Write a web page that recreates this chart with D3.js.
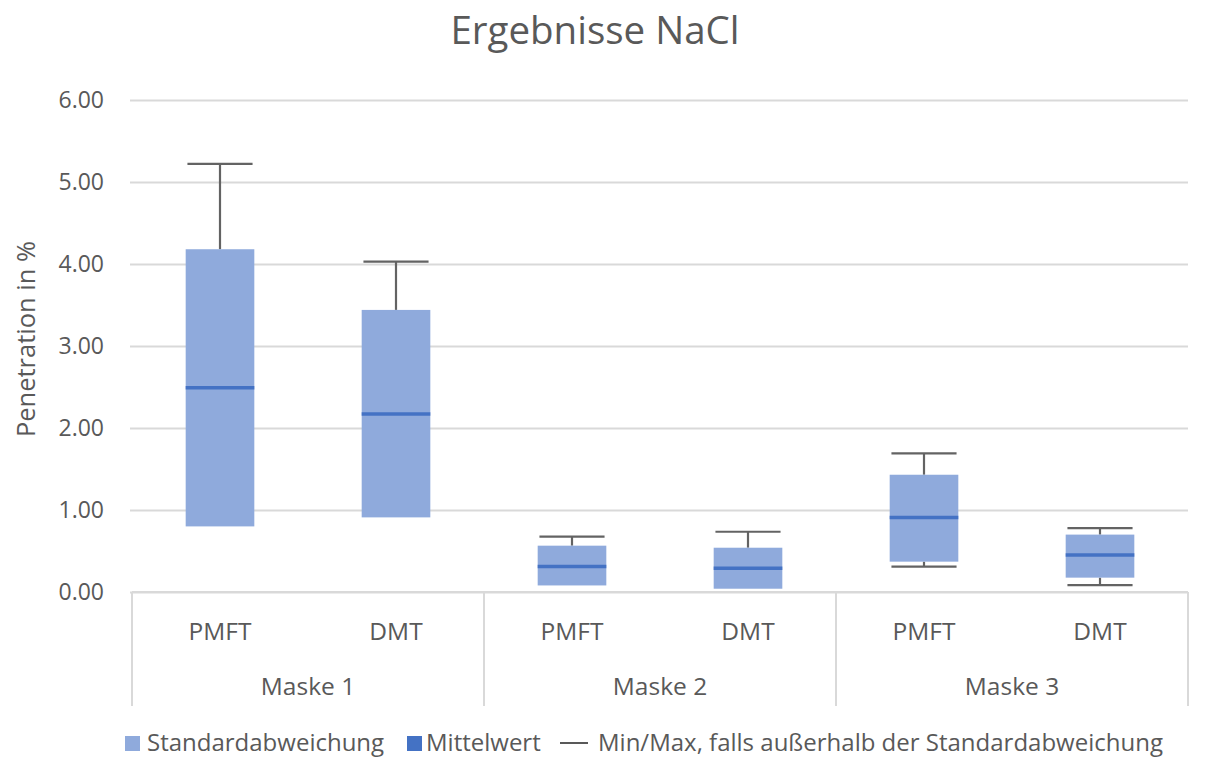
<!DOCTYPE html>
<html>
<head>
<meta charset="utf-8">
<script src="https://cdn.jsdelivr.net/npm/d3@7"></script>
<style>
  body { margin: 0; background: #fff; }
  svg { display: block; font-family: "Open Sans", sans-serif; }
</style>
</head>
<body>
<svg id="chart" width="1207" height="757"></svg>
<script>
// ---- data ----
const groups = ["Maske 1", "Maske 2", "Maske 3"];
const methods = ["PMFT", "DMT"];
const sdLow   = [0.80, 0.91, 0.08, 0.04, 0.37, 0.175];
const sdHigh  = [4.18, 3.44, 0.565, 0.54, 1.43, 0.70];
const means   = [2.49, 2.17, 0.31, 0.29, 0.91, 0.45];
const maxVals = [5.22, 4.03, 0.675, 0.735, 1.69, 0.78];
const minVals = [null, null, null, null, 0.31, 0.085];
const yTicks  = [0, 1, 2, 3, 4, 5, 6];
const title = "Ergebnisse NaCl";
const yTitle = "Penetration in %";
const legendLabels = ["Standardabweichung", "Mittelwert", "Min/Max, falls außerhalb der Standardabweichung"];

// ---- layout ----
const svg = d3.select("#chart");
const pLeft = 132, pRight = 1188, pTop = 100, pBottom = 592;
const textColor = "#595959";
const gridColor = "#d9d9d9";
const boxColor = "#8faadc";
const meanColor = "#4472c4";
const whiskerColor = "#636363";

const cats = [];
groups.forEach(g => methods.forEach(m => cats.push(g + "|" + m)));
const rows = cats.map((c, i) => ({
  key: c, group: c.split("|")[0], method: c.split("|")[1],
  lo: sdLow[i], hi: sdHigh[i], mean: means[i], max: maxVals[i], min: minVals[i]
}));

const x = d3.scaleBand().domain(cats).range([pLeft, pRight]).padding(0);
const xg = d3.scaleBand().domain(groups).range([pLeft, pRight]).padding(0);
const y = d3.scaleLinear().domain([0, 6]).range([pBottom, pTop]);

// title
svg.append("text").attr("x", 595).attr("y", 44).attr("text-anchor", "middle")
  .attr("fill", textColor).style("font-size", "38.5px").text(title);

// y axis with gridlines
const yAxis = svg.append("g").attr("transform", `translate(${pLeft},0)`)
  .call(d3.axisLeft(y).tickValues(yTicks).tickFormat(d3.format(".2f"))
        .tickSize(-(pRight - pLeft)).tickPadding(28));
yAxis.select(".domain").remove();
yAxis.selectAll(".tick line").attr("stroke", gridColor).attr("stroke-width", 2)
  .attr("x1", -2);
yAxis.selectAll(".tick text").attr("fill", textColor).style("font-size", "23px")
  .style("font-family", "'Open Sans', sans-serif");

// y title
svg.append("text").attr("transform", `translate(35,339) rotate(-90)`)
  .attr("text-anchor", "middle").attr("fill", textColor).style("font-size", "25.5px")
  .text(yTitle);

// category axis (multi-level)
const axisG = svg.append("g");
const axisBottom = 706;
axisG.append("line").attr("x1", pLeft).attr("x2", pRight).attr("y1", pBottom).attr("y2", pBottom)
  .attr("stroke", gridColor).attr("stroke-width", 2);
const seps = groups.map(g => xg(g)).concat([pRight]);
axisG.selectAll("line.sep").data(seps).join("line").attr("class", "sep")
  .attr("x1", d => d).attr("x2", d => d).attr("y1", pBottom).attr("y2", axisBottom)
  .attr("stroke", gridColor).attr("stroke-width", 2);
axisG.selectAll("text.cat").data(rows).join("text").attr("class", "cat")
  .attr("x", d => x(d.key) + x.bandwidth() / 2).attr("y", 640)
  .attr("text-anchor", "middle").attr("fill", textColor).style("font-size", "24.5px")
  .text(d => d.method);
axisG.selectAll("text.grp").data(groups).join("text").attr("class", "grp")
  .attr("x", d => xg(d) + xg.bandwidth() / 2).attr("y", 695)
  .attr("text-anchor", "middle").attr("fill", textColor).style("font-size", "24.5px")
  .text(d => d);

// boxes
const bw = x.bandwidth() * 0.39;
const capW = x.bandwidth() * 0.37;
const marks = svg.append("g");
const cx = d => x(d.key) + x.bandwidth() / 2;

// whiskers (upper)
marks.selectAll("line.wu").data(rows.filter(d => d.max != null)).join("line").attr("class", "wu")
  .attr("x1", cx).attr("x2", cx).attr("y1", d => y(d.hi)).attr("y2", d => y(d.max))
  .attr("stroke", whiskerColor).attr("stroke-width", 2.2);
marks.selectAll("line.cu").data(rows.filter(d => d.max != null)).join("line").attr("class", "cu")
  .attr("x1", d => cx(d) - capW / 2).attr("x2", d => cx(d) + capW / 2)
  .attr("y1", d => y(d.max)).attr("y2", d => y(d.max))
  .attr("stroke", whiskerColor).attr("stroke-width", 2.2);
// whiskers (lower)
marks.selectAll("line.wl").data(rows.filter(d => d.min != null)).join("line").attr("class", "wl")
  .attr("x1", cx).attr("x2", cx).attr("y1", d => y(d.lo)).attr("y2", d => y(d.min))
  .attr("stroke", whiskerColor).attr("stroke-width", 2.2);
marks.selectAll("line.cl").data(rows.filter(d => d.min != null)).join("line").attr("class", "cl")
  .attr("x1", d => cx(d) - capW / 2).attr("x2", d => cx(d) + capW / 2)
  .attr("y1", d => y(d.min)).attr("y2", d => y(d.min))
  .attr("stroke", whiskerColor).attr("stroke-width", 2.2);

marks.selectAll("rect.box").data(rows).join("rect").attr("class", "box")
  .attr("x", d => cx(d) - bw / 2).attr("width", bw)
  .attr("y", d => y(d.hi)).attr("height", d => y(d.lo) - y(d.hi))
  .attr("fill", boxColor);
marks.selectAll("line.mean").data(rows).join("line").attr("class", "mean")
  .attr("x1", d => cx(d) - bw / 2).attr("x2", d => cx(d) + bw / 2)
  .attr("y1", d => y(d.mean)).attr("y2", d => y(d.mean))
  .attr("stroke", meanColor).attr("stroke-width", 3.5);

// legend
const lg = svg.append("g");
const ly = 743;
const lfs = "24px";
lg.append("rect").attr("x", 125).attr("y", ly - 7).attr("width", 15).attr("height", 15).attr("fill", boxColor);
lg.append("text").attr("x", 147).attr("y", ly + 7.5).attr("fill", textColor).style("font-size", lfs).text(legendLabels[0]);
lg.append("rect").attr("x", 407).attr("y", ly - 7).attr("width", 15).attr("height", 15).attr("fill", meanColor);
lg.append("text").attr("x", 426).attr("y", ly + 7.5).attr("fill", textColor).style("font-size", lfs).text(legendLabels[1]);
lg.append("line").attr("x1", 560).attr("x2", 588).attr("y1", ly).attr("y2", ly).attr("stroke", "#595959").attr("stroke-width", 2);
lg.append("text").attr("x", 598).attr("y", ly + 7.5).attr("fill", textColor).style("font-size", lfs).text(legendLabels[2]);
</script>
</body>
</html>
